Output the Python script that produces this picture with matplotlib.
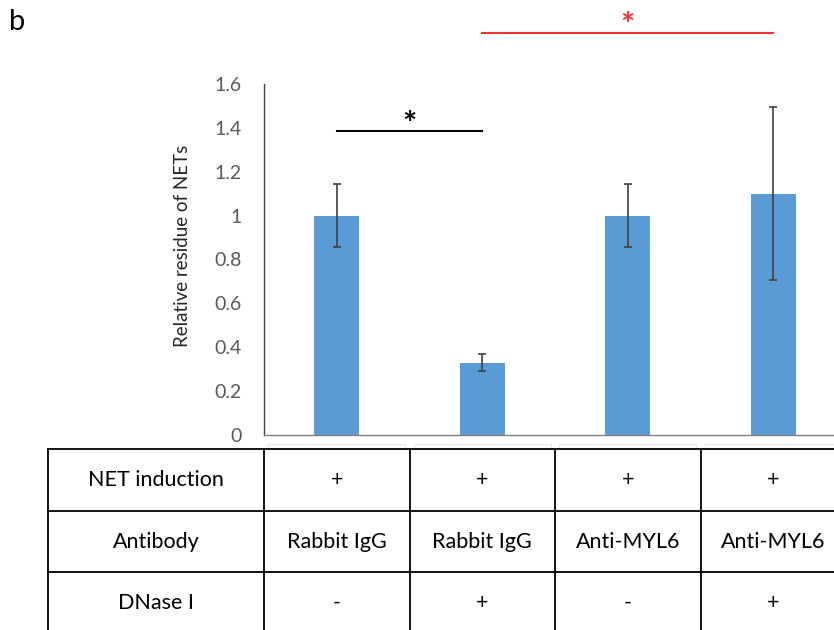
import matplotlib
matplotlib.use("Agg")
import matplotlib.pyplot as plt
from matplotlib.transforms import blended_transform_factory
from matplotlib.patches import Rectangle

plt.rcParams['font.family'] = ['Lato', 'DejaVu Sans']

# data
groups = ["Rabbit IgG", "Rabbit IgG", "Anti-MYL6", "Anti-MYL6"]
values = [1.0, 0.33, 1.0, 1.1]
errors = [0.145, 0.04, 0.145, 0.395]
net_induction = ["+", "+", "+", "+"]
dnase = ["-", "+", "-", "+"]
row_names = ["NET induction", "Antibody", "DNase I"]
yticks = [0, 0.2, 0.4, 0.6, 0.8, 1, 1.2, 1.4, 1.6]
ytick_labels = ["0", "0.2", "0.4", "0.6", "0.8", "1", "1.2", "1.4", "1.6"]

W, H = 834, 630
fig = plt.figure(figsize=(W / 100, H / 100), dpi=100)

# axes in pixel terms: y-axis at x=264, zero at y=435, 1.6 at y=84
ax = fig.add_axes([264 / W, (H - 435) / H, 582 / W, 351 / H])
xs = range(len(values))
ax.bar(xs, values, width=0.31, color="#5B9BD5", zorder=2)
ax.errorbar(xs, values, yerr=errors, fmt="none", ecolor="#404040",
            elinewidth=1.2, capsize=3, capthick=1.2, zorder=3)

ax.set_xlim(-0.5, 3.5)
ax.set_ylim(0, 1.6)
ax.set_yticks(yticks)
ax.set_yticklabels(ytick_labels)
ax.set_xticks([])
ax.tick_params(axis="y", length=0, pad=16, labelsize=14, labelcolor="#595959")
for s in ["top", "right"]:
    ax.spines[s].set_visible(False)
ax.spines["left"].set_color("#404040")
ax.spines["bottom"].set_color("#7F7F7F")
ax.spines["left"].set_linewidth(1.0)
ax.spines["bottom"].set_linewidth(1.0)

ax.set_ylabel("Relative residue of NETs", fontsize=13.5, color="#262626")
ax.yaxis.set_label_coords(-0.126, 0.54)

# significance markers
ax.plot([0, 1], [1.386, 1.386], color="black", lw=1.5, clip_on=False)
ax.text(0.5, 1.41, "*", ha="center", va="center", fontsize=24,
        fontweight="bold", color="black")
ax.plot([1, 3], [1.832, 1.832], color="#EE3333", lw=1.5, clip_on=False)
ax.text(2, 1.86, "*", ha="center", va="center", fontsize=24,
        fontweight="bold", color="#EE3333", clip_on=False)

# panel letter
fig.text(17 / W, 1 - 22 / H, "b", fontsize=21, ha="center", va="center")

# table below the axes: columns follow the x data, rows in figure coords
tr = blended_transform_factory(ax.transData, fig.transFigure)
row_edges = [449, 511, 572, 634]
row_y = [(H - r) / H for r in row_edges]
left_x = 48 / W

# faint boxes left over under the axis
for i in range(len(values)):
    fig.patches.append(Rectangle((i - 0.47, (H - 449) / H), 0.94, 5 / H,
                                 transform=tr, fill=False, lw=0.8,
                                 edgecolor="#E6E6E6"))

for y in row_y:
    fig.add_artist(plt.Line2D([left_x, 1.0], [y, y], color="black", lw=1.3,
                              transform=fig.transFigure))
fig.add_artist(plt.Line2D([left_x, left_x], [row_y[0], row_y[-1]],
                          color="black", lw=1.3, transform=fig.transFigure))
for xb in [-0.5, 0.5, 1.5, 2.5, 3.5]:
    fig.add_artist(plt.Line2D([xb, xb], [row_y[0], row_y[-1]], color="black",
                              lw=1.3, transform=tr))

header_x = (left_x + 264 / W) / 2
rows = [net_induction, groups, dnase]
for r, (name, cells) in enumerate(zip(row_names, rows)):
    yc = (row_y[r] + row_y[r + 1]) / 2
    fig.text(header_x, yc, name, ha="center", va="center", fontsize=15.5)
    for i, c in enumerate(cells):
        fig.text(i, yc, c, ha="center", va="center", fontsize=15.5, transform=tr)

fig.savefig("out.png", dpi=100)
